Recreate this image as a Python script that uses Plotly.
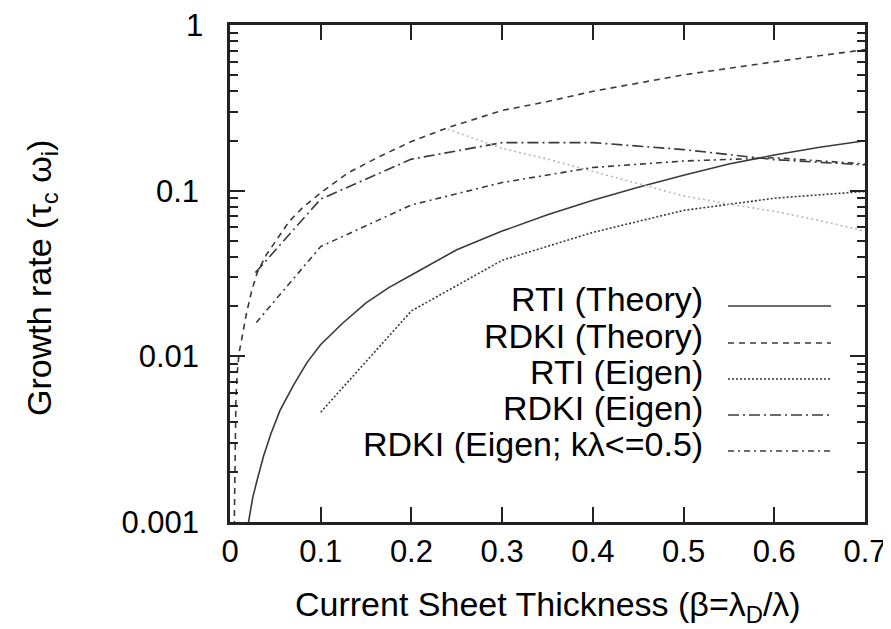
import plotly.graph_objects as go

# ---------------- data ----------------
rti_theory_x = [0.019, 0.021, 0.025, 0.03, 0.037, 0.045, 0.055, 0.07, 0.085, 0.1, 0.125,
                0.15, 0.175, 0.2, 0.25, 0.3, 0.35, 0.4, 0.45, 0.5, 0.55, 0.6, 0.65, 0.7]
rti_theory_y = [0.0009, 0.00105, 0.0014, 0.0018, 0.0025, 0.0034, 0.0047, 0.0067, 0.0092,
                0.0118, 0.016, 0.021, 0.026, 0.031, 0.044, 0.057, 0.0715, 0.0875, 0.105,
                0.124, 0.145, 0.164, 0.183, 0.2]

rdki_theory_x = [0.0045, 0.005, 0.0055, 0.0065, 0.008, 0.01, 0.013, 0.018, 0.024, 0.03,
                 0.04, 0.05, 0.065, 0.08, 0.1, 0.13, 0.165, 0.2, 0.24, 0.3, 0.35, 0.4,
                 0.5, 0.6, 0.7]
rdki_theory_y = [0.0008, 0.0015, 0.003, 0.0055, 0.008, 0.0105, 0.0128, 0.018, 0.025, 0.032,
                 0.041, 0.049, 0.065, 0.079, 0.097, 0.128, 0.161, 0.198, 0.24, 0.305,
                 0.345, 0.398, 0.5, 0.6, 0.71]

rti_eigen_x = [0.1, 0.2, 0.3, 0.4, 0.5, 0.6, 0.7]
rti_eigen_y = [0.0046, 0.0188, 0.038, 0.056, 0.076, 0.09, 0.099]

rdki_eigen_x = [0.028, 0.1, 0.2, 0.3, 0.4, 0.5, 0.6, 0.7]
rdki_eigen_y = [0.032, 0.089, 0.155, 0.195, 0.195, 0.177, 0.154, 0.143]

rdki_eigen05_x = [0.029, 0.1, 0.2, 0.3, 0.4, 0.5, 0.6, 0.7]
rdki_eigen05_y = [0.016, 0.046, 0.082, 0.112, 0.138, 0.151, 0.158, 0.145]

rdki_branch_x = [0.24, 0.3, 0.35, 0.4, 0.45, 0.5, 0.55, 0.6, 0.65, 0.7]
rdki_branch_y = [0.235, 0.18, 0.155, 0.131, 0.11, 0.093, 0.083, 0.075, 0.066, 0.057]

legend_labels = ["RTI (Theory)", "RDKI (Theory)", "RTI (Eigen)", "RDKI (Eigen)",
                 "RDKI (Eigen; k\u03bb<=0.5)"]

x_ticks = [0, 0.1, 0.2, 0.3, 0.4, 0.5, 0.6, 0.7]
x_ticktext = ["0", "0.1", "0.2", "0.3", "0.4", "0.5", "0.6", "0.7"]
y_ticks = [0.001, 0.01, 0.1, 1]
y_ticktext = ["0.001", "0.01", "0.1", "1"]
y_minor = [m * 10.0 ** e for e in (-3, -2, -1) for m in range(2, 10)]

# ---------------- styling ----------------
FONT = "Liberation Sans, Arial, Helvetica, sans-serif"
FS_TICK = 31
FS_TEXT = 34
LC = "#3a3a3a"
dashes = ["solid", "6px,5px", "2px,2px", "11px,4px,2px,4px", "6px,4px,2px,4px"]

fig = go.Figure()
series = [
    (rti_theory_x, rti_theory_y),
    (rdki_theory_x, rdki_theory_y),
    (rti_eigen_x, rti_eigen_y),
    (rdki_eigen_x, rdki_eigen_y),
    (rdki_eigen05_x, rdki_eigen05_y),
]
for (xs, ys), name, d in zip(series, legend_labels, dashes):
    fig.add_trace(go.Scatter(x=xs, y=ys, mode="lines", name=name, showlegend=False,
                             line=dict(color=LC, width=1.6, dash=d)))

fig.add_trace(go.Scatter(x=rdki_branch_x, y=rdki_branch_y, mode="lines", showlegend=False,
                         line=dict(color="#b8b8b8", width=1.6, dash="2px,3px")))

# ---------------- custom gnuplot-like key ----------------
L, R, T, B = 222, 857, 17, 514
W, H = R - L, B - T
row_y = [291, 328, 364, 400, 436]
for lab, d, yy in zip(legend_labels, dashes, row_y):
    py = (B - yy) / H
    fig.add_annotation(x=(697 - L) / W, y=py, xref="paper", yref="paper", text=lab,
                       showarrow=False, xanchor="right", yanchor="middle",
                       font=dict(family=FONT, size=FS_TEXT, color="black"))
    ly = (B - (yy + 7)) / H
    fig.add_shape(type="line", xref="paper", yref="paper",
                  x0=(720 - L) / W, x1=(823 - L) / W, y0=ly, y1=ly,
                  line=dict(color=LC, width=1.6, dash=d))

# axis titles
fig.add_annotation(x=(540 - L) / W, y=(B - 598) / H, xref="paper", yref="paper",
                   text="Current Sheet Thickness (\u03b2=\u03bb<sub>D</sub>/\u03bb)",
                   showarrow=False, xanchor="center", yanchor="middle",
                   font=dict(family=FONT, size=FS_TEXT, color="black"))
fig.add_annotation(x=(33 - L) / W, y=(B - 270) / H, xref="paper", yref="paper",
                   text="Growth rate (\u03c4<sub>c</sub> \u03c9<sub>i</sub>)", textangle=-90,
                   showarrow=False, xanchor="center", yanchor="middle",
                   font=dict(family=FONT, size=FS_TEXT, color="black"))

# top tick label "1" (plotly drops the label at the very top edge)
fig.add_annotation(x=(197 - L) / W, y=1, xref="paper", yref="paper",
                   text=y_ticktext[-1], showarrow=False, xanchor="right", yanchor="middle",
                   font=dict(family=FONT, size=FS_TICK, color="black"))

axis_common = dict(showline=True, linecolor="#222", linewidth=2.5, mirror="ticks",
                   ticks="inside", tickcolor="#222", tickwidth=2, ticklen=15,
                   showgrid=False, zeroline=False,
                   tickfont=dict(family=FONT, size=FS_TICK, color="black"))

fig.update_xaxes(range=[-0.00001, 0.70001], tickvals=x_ticks, ticktext=x_ticktext,
                 ticklabelstandoff=0, **axis_common)
fig.update_yaxes(type="log", range=[-3.0001, 0.0001], tickvals=y_ticks[:-1],
                 ticktext=y_ticktext[:-1], ticklabelstandoff=22,
                 minor=dict(tickmode="array", tickvals=y_minor, ticks="inside",
                            ticklen=8, tickwidth=2, tickcolor="#222", showgrid=False),
                 **axis_common)

fig.update_layout(width=891, height=629, plot_bgcolor="white", paper_bgcolor="white",
                  margin=dict(l=L, r=891 - R, t=T, b=629 - B, autoexpand=False),
                  font=dict(family=FONT, size=FS_TICK, color="black"))

fig.write_html("out.html")
